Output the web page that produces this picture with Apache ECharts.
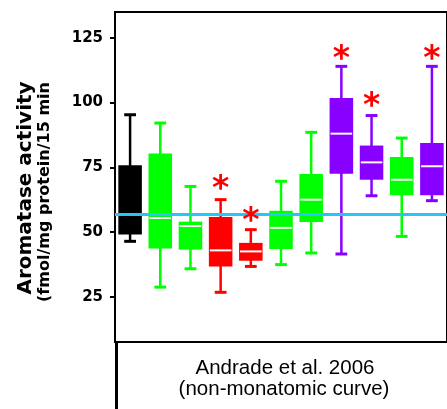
<!DOCTYPE html>
<html>
<head>
<meta charset="utf-8">
<script src="https://cdn.jsdelivr.net/npm/echarts@6/dist/echarts.min.js"></script>
<style>html,body{margin:0;padding:0;background:#fff}#c{width:447px;height:409px}</style>
</head>
<body>
<div id="c"></div>
<script>
const categories = ['G1','G2','G3','G4','G5','G6','G7','G8','G9','G10','G11'];
const whiskerLow  = [46.4, 28.7, 35.8, 26.7, 36.7, 37.4, 41.9, 41.5, 64.0, 48.3, 62.1];
const q1          = [49.0, 43.6, 43.2, 36.7, 38.9, 43.4, 53.9, 72.5, 70.2, 64.2, 64.2];
const median      = [62.0, 55.4, 52.3, 42.9, 42.5, 51.6, 62.5, 88.0, 76.9, 70.2, 75.4];
const q3          = [75.8, 80.3, 54.0, 55.8, 45.8, 58.2, 72.4, 101.8, 83.4, 79.0, 84.4];
const whiskerHigh = [95.3, 92.1, 67.6, 62.5, 50.9, 69.6, 88.5, 114.0, 95.0, 86.3, 114.0];
const starValues  = [null, null, null, 69.1, 56.7, null, null, 119.4, 101.2, null, 119.4];
const referenceValue = 57;
const yTicks = [25, 50, 75, 100, 125];

const BLACK = '#000000', GREEN = '#00ff00', RED = '#ff0000', PURPLE = '#8800ff';
const boxColors = [BLACK, GREEN, GREEN, RED, RED, GREEN, GREEN, PURPLE, PURPLE, GREEN, PURPLE];

const boxData = categories.map((c, i) => [i, whiskerLow[i], q1[i], median[i], q3[i], whiskerHigh[i]]);
const starData = [];
starValues.forEach((v, i) => { if (v != null) starData.push([i, v]); });

function renderBox(params, api) {
  const i = api.value(0);
  const band = api.size([1, 0])[0];
  const bw = band * 0.78;
  const cw = bw * 0.5;
  const c = api.coord([i, 0]);
  const x = c[0];
  const yLo = api.coord([i, api.value(1)])[1];
  const yQ1 = api.coord([i, api.value(2)])[1];
  const yMed = api.coord([i, api.value(3)])[1];
  const yQ3 = api.coord([i, api.value(4)])[1];
  const yHi = api.coord([i, api.value(5)])[1];
  const col = boxColors[i];
  const medCol = col === BLACK ? BLACK : '#ffffff';
  return {
    type: 'group',
    children: [
      { type: 'line', shape: { x1: x, y1: yHi, x2: x, y2: yLo }, style: { stroke: col, lineWidth: 2.5 } },
      { type: 'line', shape: { x1: x - cw / 2, y1: yHi, x2: x + cw / 2, y2: yHi }, style: { stroke: col, lineWidth: 3 } },
      { type: 'line', shape: { x1: x - cw / 2, y1: yLo, x2: x + cw / 2, y2: yLo }, style: { stroke: col, lineWidth: 3 } },
      { type: 'rect', shape: { x: x - bw / 2, y: yQ3, width: bw, height: yQ1 - yQ3 }, style: { fill: col } },
      { type: 'line', shape: { x1: x - bw / 2 + 1, y1: yMed, x2: x + bw / 2 - 1, y2: yMed }, style: { stroke: medCol, lineWidth: 2 } }
    ]
  };
}

function renderStar(params, api) {
  const p = api.coord([api.value(0), api.value(1)]);
  return {
    type: 'text',
    x: p[0], y: p[1] + 8,
    style: { text: '*', fill: RED, font: 'bold 33px "DejaVu Sans"', align: 'center', verticalAlign: 'middle' }
  };
}

const chart = echarts.init(document.getElementById('c'), null, { renderer: 'canvas' });
chart.setOption({
  animation: false,
  grid: { left: 115, top: 12, width: 338, height: 330, show: true, borderColor: '#000', borderWidth: 2, backgroundColor: 'transparent' },
  xAxis: {
    type: 'category', data: categories,
    axisLine: { show: false }, axisTick: { show: false }, axisLabel: { show: false }, splitLine: { show: false }
  },
  yAxis: {
    type: 'value', min: 7.5, max: 135,
    axisLine: { show: true, lineStyle: { color: '#000', width: 2 } },
    axisTick: { show: true, length: 5, lineStyle: { color: '#000', width: 2 }, customValues: yTicks },
    axisLabel: { show: true, margin: 12, color: '#000', fontFamily: 'DejaVu Sans', fontWeight: 'bold', fontSize: 15, customValues: yTicks },
    splitLine: { show: false }
  },
  series: [
    {
      type: 'custom', renderItem: renderBox, data: boxData, z: 2,
      encode: { x: 0, y: [1, 2, 3, 4, 5] },
      markLine: {
        silent: true, symbol: 'none', z: 5,
        label: { show: false },
        lineStyle: { color: '#29c5f6', width: 3, type: 'solid' },
        data: [{ yAxis: referenceValue }]
      }
    },
    { type: 'custom', renderItem: renderStar, data: starData, z: 10, encode: { x: 0, y: 1 } }
  ],
  graphic: [
    { type: 'text', x: 26, y: 188, rotation: Math.PI / 2,
      style: { text: 'Aromatase activity', fill: '#000', font: 'bold 20px "DejaVu Sans"', align: 'center', verticalAlign: 'middle' } },
    { type: 'text', x: 45, y: 192, rotation: Math.PI / 2,
      style: { text: '(fmol/mg protein/15 min', fill: '#000', font: 'bold 16px "DejaVu Sans"', align: 'center', verticalAlign: 'middle' } },
    { type: 'line', shape: { x1: 116.5, y1: 342, x2: 116.5, y2: 409 }, style: { stroke: '#000', lineWidth: 3 } },
    { type: 'text', x: 285, y: 368,
      style: { text: 'Andrade et al. 2006', fill: '#000', font: '20.5px "Liberation Sans"', align: 'center', verticalAlign: 'middle' } },
    { type: 'text', x: 284, y: 389,
      style: { text: '(non-monatomic curve)', fill: '#000', font: '20.5px "Liberation Sans"', align: 'center', verticalAlign: 'middle' } }
  ]
});
</script>
</body>
</html>
